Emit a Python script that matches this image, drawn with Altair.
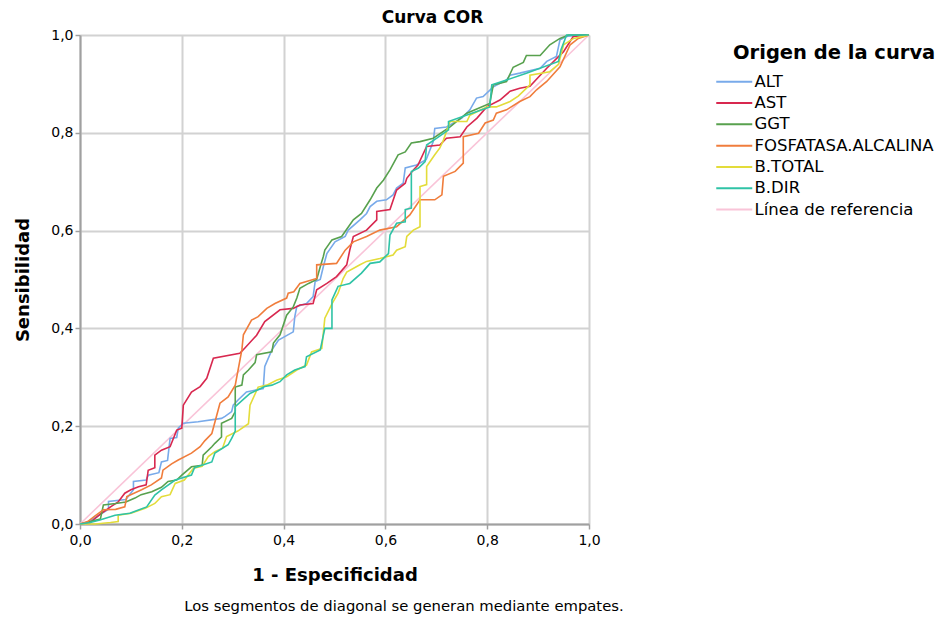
import altair as alt
import pandas as pd

FONT = "DejaVu Sans"

series_names = ["ALT", "AST", "GGT", "FOSFATASA.ALCALINA", "B.TOTAL", "B.DIR", "Línea de referencia"]
series_colors = ["#78aaea", "#d8284f", "#58a14e", "#f07d3c", "#e3dc3a", "#2fc3a6", "#f9c4d8"]

alt_x = [0, 0.01, 0.025, 0.04, 0.056, 0.056, 0.09, 0.105, 0.105, 0.13, 0.134, 0.155, 0.16, 0.172, 0.177, 0.19,
         0.193, 0.203, 0.232, 0.278, 0.285, 0.298, 0.301, 0.311, 0.327, 0.36, 0.363, 0.377, 0.39, 0.419, 0.422,
         0.426, 0.445, 0.458, 0.462, 0.472, 0.478, 0.485, 0.501, 0.521, 0.527, 0.55, 0.563, 0.57, 0.583, 0.602,
         0.615, 0.622, 0.635, 0.639, 0.661, 0.68, 0.694, 0.697, 0.72, 0.75, 0.766, 0.779, 0.792, 0.812, 0.838,
         0.845, 0.864, 0.904, 0.917, 0.936, 0.943, 0.956, 0.98, 1.0]
alt_y = [0, 0, 0.01, 0.02, 0.03, 0.046, 0.05, 0.07, 0.087, 0.09, 0.1, 0.105, 0.127, 0.13, 0.175, 0.177,
         0.196, 0.206, 0.209, 0.216, 0.22, 0.23, 0.243, 0.254, 0.27, 0.277, 0.322, 0.356, 0.376, 0.393, 0.424,
         0.445, 0.451, 0.465, 0.496, 0.5, 0.526, 0.553, 0.577, 0.588, 0.601, 0.622, 0.635, 0.649, 0.66, 0.663,
         0.673, 0.687, 0.697, 0.728, 0.734, 0.745, 0.782, 0.809, 0.812, 0.83, 0.847, 0.871, 0.874, 0.894, 0.908,
         0.918, 0.922, 0.932, 0.946, 0.956, 0.99, 0.997, 1.0, 1.0]

ast_x = [0, 0.02, 0.04, 0.06, 0.075, 0.088, 0.1, 0.115, 0.13, 0.134, 0.147, 0.147, 0.16, 0.177, 0.19, 0.2,
         0.203, 0.219, 0.236, 0.249, 0.262, 0.314, 0.324, 0.347, 0.363, 0.393, 0.419, 0.432, 0.458, 0.465,
         0.485, 0.504, 0.524, 0.53, 0.537, 0.563, 0.583, 0.583, 0.609, 0.622, 0.639, 0.642, 0.655, 0.664,
         0.681, 0.707, 0.72, 0.747, 0.76, 0.78, 0.799, 0.825, 0.845, 0.864, 0.884, 0.917, 0.95, 0.969, 1.0]
ast_y = [0, 0.003, 0.02, 0.035, 0.045, 0.063, 0.07, 0.076, 0.08, 0.11, 0.115, 0.141, 0.151, 0.158, 0.192, 0.196,
         0.243, 0.27, 0.281, 0.298, 0.339, 0.349, 0.36, 0.386, 0.414, 0.438, 0.441, 0.448, 0.451, 0.479,
         0.492, 0.506, 0.53, 0.56, 0.588, 0.601, 0.622, 0.639, 0.643, 0.683, 0.697, 0.707, 0.724, 0.734,
         0.772, 0.775, 0.789, 0.792, 0.812, 0.83, 0.853, 0.867, 0.885, 0.891, 0.895, 0.932, 0.966, 0.997, 1.0]

ggt_x = [0, 0.02, 0.04, 0.046, 0.07, 0.09, 0.108, 0.12, 0.141, 0.16, 0.173, 0.19, 0.2, 0.219, 0.24, 0.242,
         0.259, 0.265, 0.278, 0.278, 0.298, 0.305, 0.305, 0.318, 0.321, 0.331, 0.344, 0.347, 0.377, 0.38,
         0.393, 0.406, 0.419, 0.426, 0.432, 0.449, 0.465, 0.472, 0.478, 0.481, 0.495, 0.514, 0.537, 0.553,
         0.57, 0.583, 0.596, 0.609, 0.625, 0.639, 0.651, 0.668, 0.694, 0.727, 0.76, 0.805, 0.812, 0.838,
         0.851, 0.871, 0.877, 0.904, 0.923, 0.943, 0.96, 1.0]
ggt_y = [0, 0.005, 0.01, 0.039, 0.042, 0.045, 0.053, 0.06, 0.066, 0.075, 0.087, 0.09, 0.1, 0.117, 0.12, 0.141,
         0.158, 0.165, 0.178, 0.206, 0.216, 0.23, 0.28, 0.284, 0.305, 0.315, 0.33, 0.346, 0.352, 0.37,
         0.387, 0.427, 0.444, 0.462, 0.482, 0.492, 0.5, 0.526, 0.547, 0.56, 0.581, 0.588, 0.622, 0.635,
         0.663, 0.687, 0.703, 0.724, 0.755, 0.761, 0.779, 0.782, 0.789, 0.812, 0.84, 0.86, 0.898, 0.905,
         0.934, 0.944, 0.958, 0.958, 0.98, 0.993, 1.0, 1.0]

fa_x = [0, 0.015, 0.029, 0.046, 0.07, 0.088, 0.092, 0.121, 0.14, 0.16, 0.163, 0.18, 0.193, 0.219, 0.236, 0.245,
        0.259, 0.275, 0.291, 0.305, 0.318, 0.321, 0.337, 0.35, 0.367, 0.383, 0.406, 0.409, 0.42, 0.432, 0.465,
        0.465, 0.504, 0.521, 0.537, 0.563, 0.589, 0.622, 0.648, 0.668, 0.697, 0.711, 0.714, 0.737, 0.753,
        0.753, 0.783, 0.796, 0.812, 0.818, 0.838, 0.864, 0.884, 0.897, 0.917, 0.943, 0.963, 0.979, 1.0]
fa_y = [0, 0.005, 0.016, 0.029, 0.03, 0.035, 0.056, 0.07, 0.08, 0.094, 0.11, 0.123, 0.131, 0.145, 0.158, 0.17,
        0.185, 0.247, 0.26, 0.284, 0.356, 0.387, 0.417, 0.424, 0.441, 0.451, 0.462, 0.472, 0.475, 0.492, 0.502,
        0.53, 0.533, 0.56, 0.577, 0.588, 0.601, 0.608, 0.632, 0.663, 0.663, 0.673, 0.711, 0.721, 0.738,
        0.792, 0.799, 0.82, 0.826, 0.84, 0.847, 0.864, 0.874, 0.888, 0.905, 0.935, 0.98, 0.993, 1.0]

bt_x = [0, 0.03, 0.06, 0.075, 0.075, 0.1, 0.128, 0.147, 0.16, 0.177, 0.187, 0.205, 0.223, 0.24, 0.252, 0.265,
        0.28, 0.288, 0.31, 0.331, 0.334, 0.35, 0.367, 0.386, 0.406, 0.426, 0.445, 0.455, 0.475, 0.481, 0.495,
        0.507, 0.517, 0.524, 0.55, 0.563, 0.589, 0.615, 0.622, 0.639, 0.642, 0.655, 0.668, 0.668, 0.681,
        0.681, 0.697, 0.707, 0.714, 0.727, 0.76, 0.766, 0.8, 0.818, 0.845, 0.861, 0.884, 0.884, 0.923, 0.94,
        0.95, 0.97, 1.0]
bt_y = [0, 0, 0.003, 0.005, 0.018, 0.022, 0.032, 0.042, 0.056, 0.06, 0.083, 0.09, 0.114, 0.118, 0.138, 0.148,
        0.155, 0.179, 0.19, 0.205, 0.243, 0.28, 0.284, 0.294, 0.301, 0.315, 0.325, 0.352, 0.359, 0.421, 0.45,
        0.472, 0.502, 0.515, 0.53, 0.537, 0.543, 0.55, 0.56, 0.567, 0.588, 0.601, 0.608, 0.69, 0.694,
        0.731, 0.755, 0.769, 0.785, 0.823, 0.823, 0.836, 0.853, 0.853, 0.864, 0.875, 0.898, 0.918, 0.925, 0.94,
        0.98, 0.993, 1.0]

bd_x = [0, 0.02, 0.039, 0.069, 0.098, 0.131, 0.147, 0.16, 0.187, 0.219, 0.225, 0.259, 0.265, 0.291, 0.298, 0.305,
        0.305, 0.334, 0.363, 0.377, 0.393, 0.406, 0.422, 0.442, 0.445, 0.472, 0.481, 0.495, 0.495, 0.507, 0.53,
        0.553, 0.57, 0.589, 0.606, 0.609, 0.622, 0.639, 0.639, 0.651, 0.651, 0.665, 0.678, 0.681, 0.701,
        0.724, 0.724, 0.77, 0.805, 0.809, 0.838, 0.877, 0.94, 0.945, 0.956, 1.0]
bd_y = [0, 0.003, 0.008, 0.018, 0.022, 0.035, 0.059, 0.07, 0.09, 0.1, 0.115, 0.127, 0.145, 0.162, 0.175, 0.19,
        0.24, 0.267, 0.281, 0.284, 0.291, 0.305, 0.315, 0.322, 0.342, 0.356, 0.4, 0.4, 0.458, 0.486, 0.492,
        0.513, 0.533, 0.536, 0.553, 0.591, 0.615, 0.618, 0.643, 0.646, 0.721, 0.728, 0.741, 0.775, 0.789,
        0.806, 0.823, 0.84, 0.853, 0.898, 0.908, 0.922, 0.946, 0.97, 1.0, 1.0]

ref_x = [0, 1]
ref_y = [0, 1]

axis_values = [0, 0.2, 0.4, 0.6, 0.8, 1.0]
footnote = "Los segmentos de diagonal se generan mediante empates."

curves = [("ALT", alt_x, alt_y), ("AST", ast_x, ast_y), ("GGT", ggt_x, ggt_y),
          ("FOSFATASA.ALCALINA", fa_x, fa_y), ("B.TOTAL", bt_x, bt_y), ("B.DIR", bd_x, bd_y)]

rows = []
for name, xs, ys in curves:
    for i, (x, y) in enumerate(zip(xs, ys)):
        rows.append({"serie": name, "i": i, "x": x, "y": y})
df = pd.DataFrame(rows)
df_ref = pd.DataFrame({"serie": "Línea de referencia", "i": range(len(ref_x)), "x": ref_x, "y": ref_y})

label_expr = "replace(format(datum.value, '.1f'), '.', ',')"

x_enc = alt.X("x:Q", scale=alt.Scale(domain=[0, 1], nice=False),
              axis=alt.Axis(values=axis_values, labelExpr=label_expr, title="1 - Especificidad",
                            titlePadding=19, labelFlush=False, labelPadding=4))
y_enc = alt.Y("y:Q", scale=alt.Scale(domain=[0, 1], nice=False),
              axis=alt.Axis(values=axis_values, labelExpr=label_expr, title="Sensibilidad",
                            titlePadding=18, labelFlush=False))
color_enc = alt.Color("serie:N", scale=alt.Scale(domain=series_names, range=series_colors),
                      legend=alt.Legend(title="Origen de la curva", orient="none", legendX=653, legendY=9,
                                        symbolType="M-5,0H2.2", symbolSize=100, symbolStrokeWidth=2,
                                        labelFontSize=16.5, labelOffset=5, rowPadding=4.3,
                                        labelLimit=400, titleLimit=400,
                                        titleFontSize=19.5, titleFontWeight="bold", titlePadding=10,
                                        titleAnchor="start", labelColor="black", titleColor="black",
                                        labelFont=FONT, titleFont=FONT))

ref = alt.Chart(df_ref).mark_line(strokeWidth=1.6).encode(x=x_enc, y=y_enc, color=color_enc, order="i:Q")
lines = alt.Chart(df).mark_line(strokeWidth=1.6).encode(x=x_enc, y=y_enc, color=color_enc, order="i:Q")
note = alt.Chart(pd.DataFrame({"t": [footnote]})).mark_text(
    font=FONT, fontSize=14.8, color="black", align="center", baseline="middle"
).encode(text="t:N", x=alt.value(324), y=alt.value(572))

chart = alt.layer(ref, lines, note).properties(
    width=509, height=489,
    title=alt.TitleParams("Curva COR", font=FONT, fontSize=17, fontWeight="bold", color="black",
                          anchor="middle", dx=98, offset=1),
    autosize=alt.AutoSizeParams(type="none"),
    padding={"left": 72, "top": 27, "right": 349, "bottom": 94},
).configure_view(stroke=None).configure_axis(
    grid=True, gridColor="#d2d2d2", gridWidth=2, domainColor="#a0a0a0", domainWidth=2,
    tickColor="#a0a0a0", tickSize=5, tickWidth=1.5, labelFont=FONT, labelFontSize=14, labelColor="black",
    titleFont=FONT, titleFontSize=18, titleFontWeight="bold", titleColor="black", labelPadding=2,
)

chart.save("out.html", embed_options={"renderer": "svg", "actions": False})
